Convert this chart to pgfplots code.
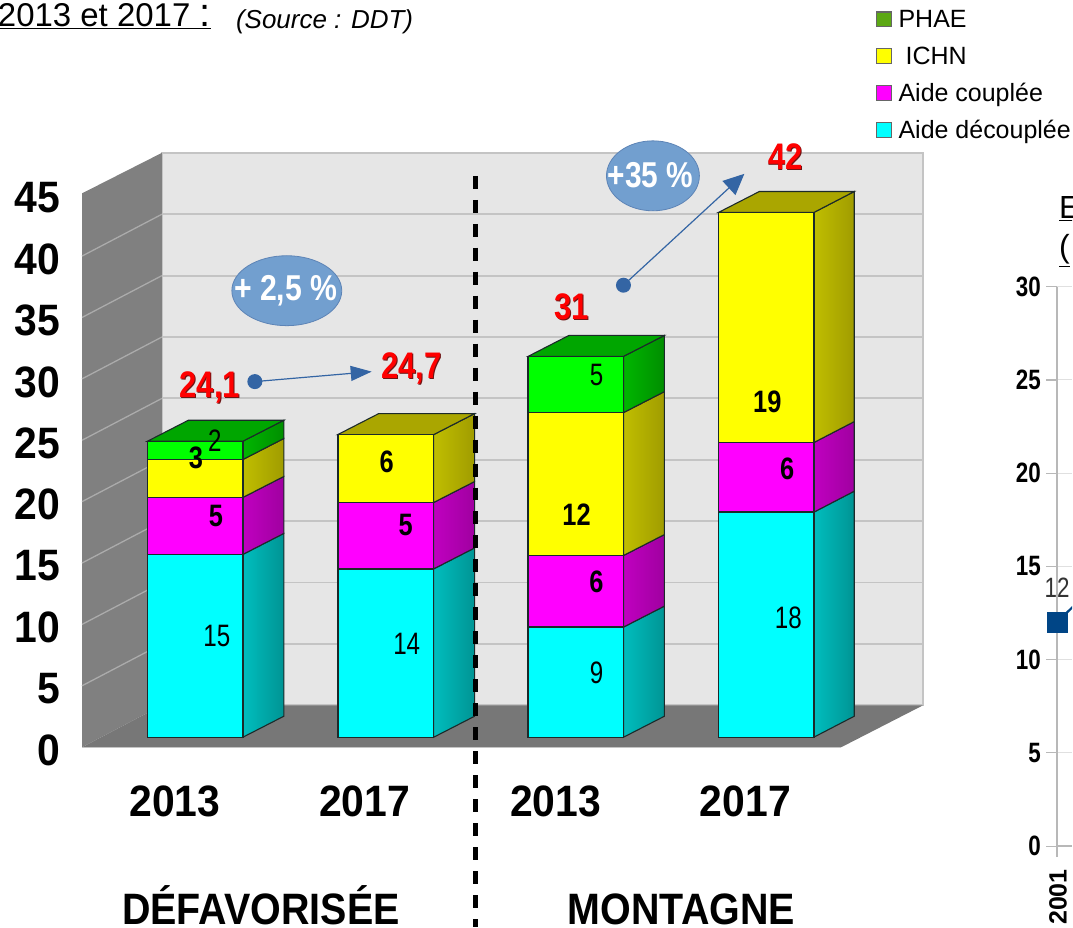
\documentclass[border=0pt]{standalone}
\usepackage{fontspec}
\setmainfont{Liberation Sans}
\usepackage{graphicx}
\usepackage{pgfplots}
\pgfplotsset{compat=1.18}
\usetikzlibrary{arrows.meta}
\definecolor{wallc}{HTML}{E6E6E6}
\definecolor{wallb}{HTML}{C4C4C4}
\definecolor{sidew}{HTML}{808080}
\definecolor{sidel}{HTML}{ABABAB}
\definecolor{floorc}{HTML}{777777}
\definecolor{edge}{HTML}{1C2A2A}
\definecolor{bluepin}{HTML}{3465A4}
\definecolor{ellf}{HTML}{729FCF}
\definecolor{ptblue}{HTML}{004586}
\definecolor{pcyan}{RGB}{0,255,255}
\definecolor{pmag}{RGB}{255,0,255}
\definecolor{pyel}{RGB}{255,255,0}
\definecolor{pgre}{RGB}{0,255,0}
\definecolor{cyanA}{RGB}{0,190,190}\definecolor{cyanB}{RGB}{0,148,148}
\definecolor{magA}{RGB}{192,0,192}\definecolor{magB}{RGB}{160,0,160}
\definecolor{yelA}{RGB}{192,190,0}\definecolor{yelB}{RGB}{160,156,0}
\definecolor{greA}{RGB}{0,182,0}\definecolor{greB}{RGB}{0,142,0}
\definecolor{yelT}{RGB}{170,166,0}
\definecolor{greT}{RGB}{0,166,0}
\definecolor{legG}{RGB}{92,168,20}
\definecolor{shad}{RGB}{110,20,20}
\newcommand\fs[1]{\fontsize{#1}{#1}\selectfont}
% text placed by reference pixel: x, y from top, colour, horizontal scale, text
\newcommand\T[5]{\node[inner sep=0pt,text=#3] at (axis cs:#1,{(738-#2)/12.29}) {\scalebox{#4}[1]{#5}};}
\newcommand\R[3]{%
  \node[inner sep=0pt,text=shad] at (axis cs:#1+.9,{(738-#2-.9)/12.29}) {\scalebox{.84}[1]{\fs{37}\bfseries #3}};%
  \node[inner sep=0pt,text=red] at (axis cs:#1,{(738-#2)/12.29}) {\scalebox{.84}[1]{\fs{37}\bfseries #3}};}
\pgfplotsset{
  canvas/.style={scale only axis,width=1073pt,height=928pt,at={(0pt,0pt)},anchor=south west,
    xmin=0,xmax=1073,ymin=-15.46,ymax=60.05},
  cyanS/.style={shade,left color=cyanA,right color=cyanB,draw=edge,line width=1.1pt},
  magS/.style={shade,left color=magA,right color=magB,draw=edge,line width=1.1pt},
  yelS/.style={shade,left color=yelA,right color=yelB,draw=edge,line width=1.1pt},
  greS/.style={shade,left color=greA,right color=greB,draw=edge,line width=1.1pt},
}
\begin{document}
\begin{tikzpicture}
% ---------- shell, walls and 3D sides
\begin{axis}[canvas,
  axis x line=none, axis y line*=left, axis line style={draw=none},
  ytick={0,5,...,45}, major tick length=0pt,
  /pgf/number format/assume math mode=true,
  yticklabel={\scalebox{.93}[1]{\fs{44}\bfseries\pgfmathprintnumber{\tick}}},
  yticklabel style={anchor=east,xshift=60pt,yshift=-13pt,inner sep=0pt},
]
\addplot[fill=wallc,draw=wallb,line width=1.6pt] coordinates {(162,47.6)(924,47.6)(924,2.604)(162,2.604)} --cycle;
\addplot[fill=sidew,draw=none] coordinates {(82,44.3)(162,47.6)(162,2.604)(82,-0.814)} --cycle;
\addplot[fill=floorc,draw=none] coordinates {(82,-0.814)(162,2.604)(924,2.604)(842,-0.814)} --cycle;
\addplot[draw=wallb,line width=1pt] coordinates {(82,-0.814)(842,-0.814)};
% back grid lines
\addplot[wallb,line width=1.8pt] coordinates {(162,7.6)(924,7.6)};
\addplot[wallb,line width=1.8pt] coordinates {(162,12.6)(924,12.6)};
\addplot[wallb,line width=1.8pt] coordinates {(162,17.6)(924,17.6)};
\addplot[wallb,line width=1.8pt] coordinates {(162,22.6)(924,22.6)};
\addplot[wallb,line width=1.8pt] coordinates {(162,27.6)(924,27.6)};
\addplot[wallb,line width=1.8pt] coordinates {(162,32.6)(924,32.6)};
\addplot[wallb,line width=1.8pt] coordinates {(162,37.6)(924,37.6)};
\addplot[wallb,line width=1.8pt] coordinates {(162,42.6)(924,42.6)};
% side wall grid lines
\addplot[sidel,line width=1.3pt] coordinates {(82,4.19)(162,7.6)};
\addplot[sidel,line width=1.3pt] coordinates {(82,9.19)(162,12.6)};
\addplot[sidel,line width=1.3pt] coordinates {(82,14.19)(162,17.6)};
\addplot[sidel,line width=1.3pt] coordinates {(82,19.19)(162,22.6)};
\addplot[sidel,line width=1.3pt] coordinates {(82,24.19)(162,27.6)};
\addplot[sidel,line width=1.3pt] coordinates {(82,29.19)(162,32.6)};
\addplot[sidel,line width=1.3pt] coordinates {(82,34.19)(162,37.6)};
\addplot[sidel,line width=1.3pt] coordinates {(82,39.19)(162,42.6)};
% bar 1 sides and top
\addplot[cyanS] coordinates {(243,0)(284,1.71)(284,16.60)(243,14.89)} --cycle;
\addplot[magS] coordinates {(243,14.89)(284,16.60)(284,21.24)(243,19.53)} --cycle;
\addplot[yelS] coordinates {(243,19.53)(284,21.24)(284,24.33)(243,22.62)} --cycle;
\addplot[greS] coordinates {(243,22.62)(284,24.33)(284,25.82)(243,24.11)} --cycle;
\addplot[fill=greT,draw=edge,line width=1.1pt] coordinates {(147.5,24.11)(188.5,25.82)(284,25.82)(243,24.11)} --cycle;
% bar 2
\addplot[cyanS] coordinates {(434,0)(475,1.71)(475,15.42)(434,13.71)} --cycle;
\addplot[magS] coordinates {(434,13.71)(475,15.42)(475,20.83)(434,19.12)} --cycle;
\addplot[yelS] coordinates {(434,19.12)(475,20.83)(475,26.36)(434,24.65)} --cycle;
\addplot[fill=yelT,draw=edge,line width=1.1pt] coordinates {(338,24.65)(379,26.36)(475,26.36)(434,24.65)} --cycle;
% bar 3
\addplot[cyanS] coordinates {(624,0)(665,1.71)(665,10.68)(624,8.97)} --cycle;
\addplot[magS] coordinates {(624,8.97)(665,10.68)(665,16.51)(624,14.80)} --cycle;
\addplot[yelS] coordinates {(624,14.80)(665,16.51)(665,28.15)(624,26.44)} --cycle;
\addplot[greS] coordinates {(624,26.44)(665,28.15)(665,32.73)(624,31.02)} --cycle;
\addplot[fill=greT,draw=edge,line width=1.1pt] coordinates {(528.5,31.02)(569.5,32.73)(665,32.73)(624,31.02)} --cycle;
% bar 4
\addplot[cyanS] coordinates {(814.5,0)(855,1.71)(855,20.04)(814.5,18.33)} --cycle;
\addplot[magS] coordinates {(814.5,18.33)(855,20.04)(855,25.71)(814.5,24.00)} --cycle;
\addplot[yelS] coordinates {(814.5,24.00)(855,25.71)(855,44.45)(814.5,42.74)} --cycle;
\addplot[fill=yelT,draw=edge,line width=1.1pt] coordinates {(719,42.74)(760,44.45)(855,44.45)(814.5,42.74)} --cycle;
\end{axis}
% ---------- front faces, stacked, with legend, arrows and bubbles
\begin{axis}[canvas, hide axis, ybar stacked, bar width=95.5pt,
  legend style={draw=none,fill=none,at={(0.8165,0.990)},anchor=north west,font=\fs{25},
    inner sep=0pt,row sep=13pt,
    nodes={inner sep=0pt,text height=18pt,text depth=6pt},
    /tikz/every odd column/.append style={column sep=7pt}},
  legend cell align=left,
  legend image code/.code={\draw[#1,line width=1.1pt] (0pt,-5.5pt) rectangle (15pt,9.5pt);},
]
\addplot[forget plot,fill=pcyan,draw=edge,line width=1.4pt] coordinates {(195.25,14.89)(386,13.71)(576,8.97)(767,18.33)};
\addplot[forget plot,fill=pmag,draw=edge,line width=1.4pt] coordinates {(195.25,4.64)(386,5.41)(576,5.83)(767,5.67)};
\addplot[forget plot,fill=pyel,draw=edge,line width=1.4pt] coordinates {(195.25,3.09)(386,5.53)(576,11.64)(767,18.74)};
\addplot[forget plot,fill=pgre,draw=edge,line width=1.4pt] coordinates {(195.25,1.49)(386,0)(576,4.58)(767,0)};
\addlegendimage{fill=legG,draw=black!60}
\addlegendentry{PHAE}
\addlegendimage{fill=pyel,draw=black!60}
\addlegendentry{\hspace{7pt}ICHN}
\addlegendimage{fill=pmag,draw=black!60}
\addlegendentry{Aide couplée}
\addlegendimage{fill=pcyan,draw=black!60}
\addlegendentry{Aide découplée}
% separator
\draw[black,line width=5pt,dash pattern=on 13pt off 11pt] (axis cs:476,{(738-176)/12.29}) -- (axis cs:476,-15.46);
% evolution arrows and bubbles
\draw[bluepin,line width=1.2pt,-{Triangle[length=21pt,width=15pt]}] (axis cs:255,{(738-382)/12.29}) -- (axis cs:372,{(738-372)/12.29});
\fill[bluepin] (axis cs:255,{(738-382)/12.29}) circle (7.5pt);
\draw[bluepin,line width=1.2pt,-{Triangle[length=21pt,width=19pt]}] (axis cs:624,{(738-285.5)/12.29}) -- (axis cs:745,{(738-174)/12.29});
\fill[bluepin] (axis cs:624,{(738-285.5)/12.29}) circle (7.5pt);
\fill[ellf,draw=bluepin!80,line width=.8pt] (axis cs:287,{(738-291)/12.29}) ellipse (55pt and 35pt);
\fill[ellf,draw=bluepin!80,line width=.8pt] (axis cs:653.5,{(738-176)/12.29}) ellipse (46.5pt and 35pt);
\end{axis}
% ---------- all the texts, on top
\begin{axis}[canvas, hide axis]
% value labels in the bars
\T{217}{637}{black}{.78}{\fs{31}15}
\T{216}{517}{black}{.82}{\fs{31}\bfseries 5}
\T{196}{458}{black}{.82}{\fs{31}\bfseries 3}
\T{215}{441}{black}{.78}{\fs{31}2}
\T{407}{645}{black}{.78}{\fs{31}14}
\T{406}{526}{black}{.82}{\fs{31}\bfseries 5}
\T{387}{462}{black}{.82}{\fs{31}\bfseries 6}
\T{597}{674}{black}{.78}{\fs{31}9}
\T{597}{582}{black}{.82}{\fs{31}\bfseries 6}
\T{577}{515}{black}{.82}{\fs{31}\bfseries 12}
\T{597}{375}{black}{.78}{\fs{31}5}
\T{768}{402}{black}{.82}{\fs{31}\bfseries 19}
\T{788}{469}{black}{.82}{\fs{31}\bfseries 6}
\T{789}{618}{black}{.78}{\fs{31}18}
% totals
\R{210}{388}{24,1}
\R{412}{369}{24,7}
\R{572}{307}{31}
\R{786}{157}{42}
\T{286}{291}{white}{.84}{\fs{36}\bfseries + 2,5 \%}
\T{651}{175}{white}{.83}{\fs{36}\bfseries +35 \%}
% category labels
\T{175}{802}{black}{.93}{\fs{44}\bfseries 2013}
\T{365}{802}{black}{.93}{\fs{44}\bfseries 2017}
\T{556}{802}{black}{.93}{\fs{44}\bfseries 2013}
\T{746}{802}{black}{.93}{\fs{44}\bfseries 2017}
\node[inner sep=0pt,anchor=base] at (axis cs:261,{(738-925)/12.29}) {\scalebox{.897}[1]{\fs{44}\bfseries DÉFAVORISÉE}};
\node[inner sep=0pt,anchor=base] at (axis cs:682,{(738-925)/12.29}) {\scalebox{.897}[1]{\fs{44}\bfseries MONTAGNE}};
% cut-off page text
\node[inner sep=0pt,anchor=base east] at (axis cs:211,{(738-27)/12.29}) {\fs{33}\underline{2013 et 2017\ {\fs{40}:}}};
\node[inner sep=0pt,anchor=base west] at (axis cs:236,{(738-29)/12.29}) {\fs{26}\itshape (Source : DDT)};
\node[inner sep=0pt,anchor=base west] at (axis cs:1060,{(738-219)/12.29}) {\fs{32}\underline{E}};
\node[inner sep=0pt,anchor=base west] at (axis cs:1060,{(738-258)/12.29}) {\fs{32}\underline{(}};
\end{axis}
% ---------- the neighbouring chart, cut by the page edge
\begin{axis}[scale only axis,width=15pt,height=560pt,at={(1058pt,81pt)},anchor=south west,
  xmin=2001,xmax=2001.417,ymin=0,ymax=30,
  axis lines=left, axis line style={-,draw=black!28,line width=2pt},
  ytick={0,5,...,30}, xtick={2001}, xticklabels={2001},
  tick style={draw=black!28,line width=1.2pt}, major tick length=11pt,
  tick align=outside, ymajorgrids, grid style={black!12,line width=1pt},
  clip mode=individual,
  /pgf/number format/assume math mode=true,
  yticklabel={\scalebox{.8}[1]{\fs{28}\bfseries\pgfmathprintnumber{\tick}}},
  yticklabel style={anchor=east,inner sep=0pt,xshift=-5pt},
  xticklabel style={rotate=90,anchor=east,font=\fs{25}\bfseries,inner sep=0pt,yshift=-1pt,xshift=-12pt},
]
\addplot[ptblue,line width=2.2pt,mark=square*,mark size=10pt,mark options={fill=ptblue,draw=ptblue,line width=0pt}] coordinates {(2001,12)(2002,13.9)};
\node[inner sep=0pt,text=black!80] at (axis cs:2001,13.87) {\scalebox{.8}[1]{\fs{28}12}};
\end{axis}
\end{tikzpicture}
\end{document}
